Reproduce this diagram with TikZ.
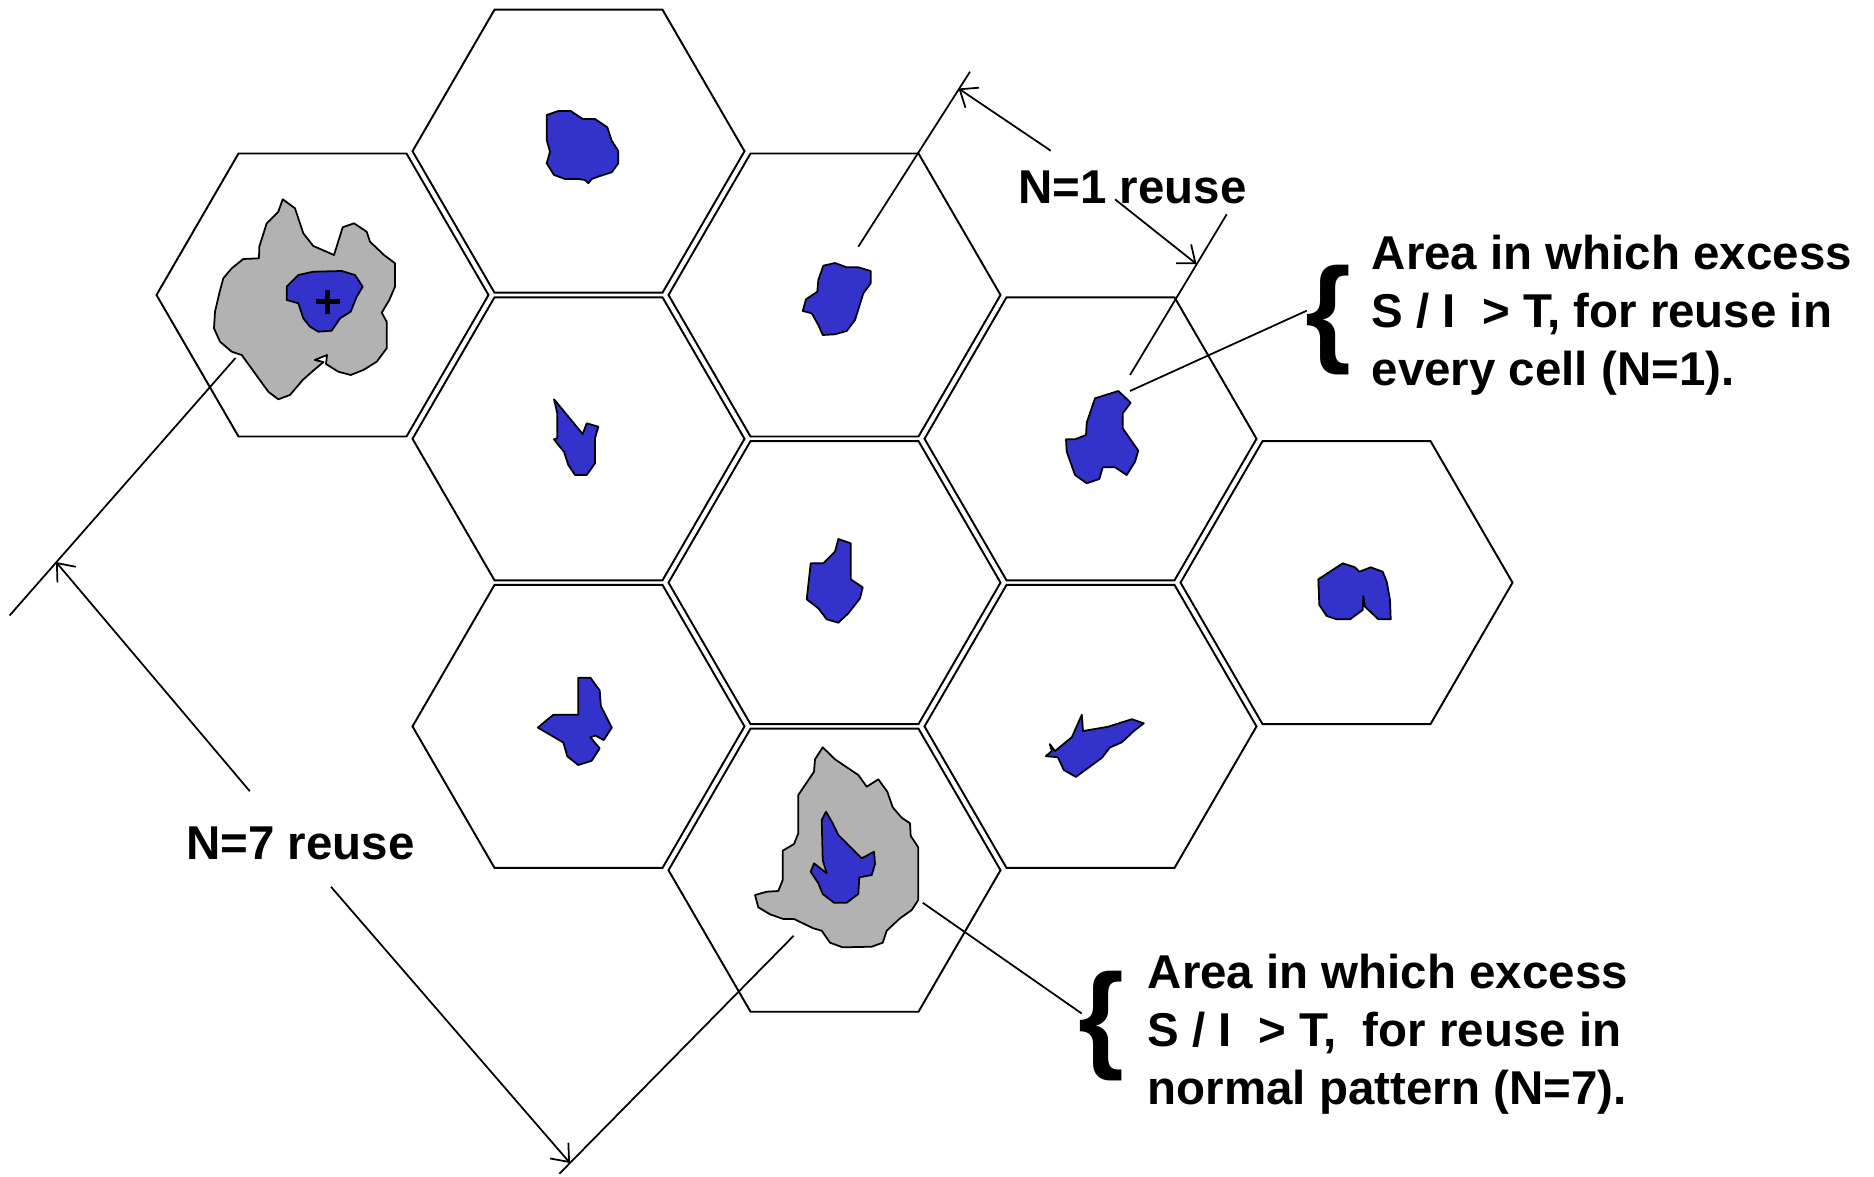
\documentclass[tikz,border=0pt]{standalone}
\usepackage{fontspec}
\setmainfont{Liberation Sans}
\usetikzlibrary{arrows.meta}
\definecolor{blobblue}{RGB}{51,51,204}
\definecolor{blobgray}{RGB}{178,178,178}
\begin{document}
\begin{tikzpicture}[x=0.01cm,y=-0.01cm,
  cell/.style={draw, line width=0.55pt, line join=miter},
  blob/.style={draw, line width=0.5pt, fill=blobblue, line join=round},
  shadearea/.style={draw, line width=0.5pt, fill=blobgray, line join=round},
  lead/.style={draw, line width=0.5pt},
  dimarrow/.style={draw, line width=0.5pt, -{Straight Barb[length=0.15cm,width=0.24cm,line width=0.5pt]}},
  lbl/.style={font=\fontsize{13.5}{16.5}\selectfont\bfseries, inner sep=0pt},
  bracetext/.style={font=\fontsize{33.5}{33.5}\selectfont\bfseries, inner sep=0pt}
]
\useasboundingbox (0,0) rectangle (1874,1176);
% cell centres
\coordinate (A) at (322.5,295);
\coordinate (B) at (578.5,151.2);
\coordinate (C) at (834.5,295);
\coordinate (D) at (578.5,438.8);
\coordinate (E) at (1090.5,438.8);
\coordinate (F) at (834.5,582.6);
\coordinate (G) at (1346.5,582.6);
\coordinate (H) at (578.5,726.4);
\coordinate (I) at (1090.5,726.4);
\coordinate (J) at (834.5,870.2);
\foreach \n in {A,B,C,D,E,F,G,H,I,J}
  \draw[cell] (\n) ++(-166,0) -- ++(82,-141.5) -- ++(168,0) -- ++(82,141.5) -- ++(-82,141.5) -- ++(-168,0) -- cycle;

% cell A: grey area and blue area
\draw[shadearea] (282.7,199.3) -- (295,208.3) -- (303.3,233.3) -- (313.3,246) -- (334,255) -- (342.7,227.3) -- (354,223.3) -- (366.7,231.7) -- (370,241.7) -- (384,255) -- (395,263.3) -- (395,286.7) -- (389.3,300) -- (381.7,312.7) -- (386.7,321.7) -- (386.7,348.3) -- (376.7,361.7) -- (363.3,370) -- (350.7,375) -- (338.3,371.7) -- (326,364) -- (327,355) -- (314.7,360) -- (323.5,362) -- (314,370) -- (302.7,380) -- (290,395) -- (278.3,399.3) -- (268.3,391.7) -- (255,373.3) -- (241.7,355) -- (231.7,351.7) -- (220,341.7) -- (214,328.3) -- (215,311.7) -- (219.3,293.3) -- (223.3,278.3) -- (231.7,268.3) -- (243.3,259) -- (259,258.3) -- (259.3,246.7) -- (266.7,223.3) -- (278.3,211.7) -- cycle;
\draw[blob] (286.7,286.7) -- (298.3,275) -- (313.3,271.7) -- (341.7,271) -- (355,275) -- (362.7,286.7) -- (356.7,296.7) -- (350.7,311.7) -- (340,318.3) -- (331.7,330.7) -- (318.3,331.7) -- (310,326.7) -- (303.3,318.3) -- (298.3,303.3) -- (286.7,300) -- cycle;
\coordinate (plusc) at (327.7,301.7);
\draw[line width=1.5pt] ([xshift=-0.12cm]plusc) -- ([xshift=0.12cm]plusc) ([yshift=-0.12cm]plusc) -- ([yshift=0.12cm]plusc);

% cell B
\draw[blob] (546.7,115) -- (558.3,111) -- (570.7,111) -- (582.7,119) -- (595,119) -- (607.3,127.3) -- (611.7,140.7) -- (618.3,151) -- (618.3,163.3) -- (611.7,172.3) -- (600,176) -- (591.7,179) -- (588.3,183.3) -- (585,180) -- (578.3,179) -- (565,179) -- (554,175) -- (546.7,163.3) -- (550,151.7) -- (546.7,140) -- cycle;
% cell C
\draw[blob] (823.3,265.7) -- (835,263) -- (846.7,267.3) -- (858.3,267.3) -- (870.7,271) -- (870.7,283.3) -- (863.3,293.3) -- (855,320) -- (846.7,331) -- (835,334.3) -- (822.7,335) -- (818.3,325) -- (811.7,313.3) -- (802.7,311) -- (806,299.3) -- (817.3,291.7) -- (818.3,280) -- cycle;
% cell D
\draw[blob] (554,399.3) -- (582.7,434) -- (586.7,423.3) -- (598.3,426.7) -- (595,438.3) -- (595,463.3) -- (586.7,475) -- (575,475) -- (568.3,465) -- (564,451.7) -- (558.3,445) -- (554,439.3) -- (557.3,438.3) -- (557.3,413.3) -- cycle;
% cell E
\draw[blob] (1095,398.3) -- (1118.3,391) -- (1130.7,402.7) -- (1122.7,413.3) -- (1122.7,428.3) -- (1138.3,450.7) -- (1135,461.7) -- (1126.7,475) -- (1115,467.3) -- (1102.7,467.3) -- (1099.3,479) -- (1086.7,483.3) -- (1075,475) -- (1066.7,451.7) -- (1066,439.3) -- (1075,439.3) -- (1086,435) -- (1086.7,422.7) -- cycle;
% cell F
\draw[blob] (838.3,539) -- (850.7,543.3) -- (850.7,579.3) -- (862.7,587.3) -- (860,598.3) -- (848.3,613.3) -- (838.3,622.7) -- (826.7,619.3) -- (818.3,608.3) -- (806.7,599.3) -- (810.7,563.3) -- (823.3,563.3) -- (835,551.7) -- cycle;
% cell G
\draw[blob] (1318.3,579.3) -- (1342.7,563.3) -- (1355,567.3) -- (1359.3,571.7) -- (1370.7,567.3) -- (1382.7,571.7) -- (1386.7,581.7) -- (1390,600) -- (1390.7,619.3) -- (1378.3,619.3) -- (1365,606.7) -- (1363.3,596) -- (1362.7,610) -- (1350,619.3) -- (1336.7,619.3) -- (1326.7,616) -- (1319.3,605) -- cycle;
% cell H
\draw[blob] (578.2,677.7) -- (590.4,677.7) -- (599.7,690.5) -- (600.9,706.1) -- (611.8,727.6) -- (603.7,740.1) -- (595.6,735.6) -- (590.4,737.3) -- (599.7,748.4) -- (591.6,760.8) -- (578.2,765) -- (567.3,756.3) -- (563.3,742.5) -- (537.8,727.6) -- (553.2,714.8) -- (578.2,714.8) -- cycle;
% cell I
\draw[blob] (1081.8,714.7) -- (1083,731) -- (1107.8,726.8) -- (1131.8,719.2) -- (1143.8,723.3) -- (1133.8,731) -- (1121.8,742.3) -- (1109.8,747.5) -- (1101.8,757.9) -- (1075.8,776.9) -- (1063.8,770) -- (1057.8,757.2) -- (1045.8,756.2) -- (1051.8,751) -- (1049.8,744.1) -- (1055,751) -- (1071.8,737.2) -- cycle;
% cell J: grey area and blue area
\draw[shadearea] (822.7,747.3) -- (835,759.3) -- (858.3,775) -- (866.7,786.7) -- (878.3,779.3) -- (887.3,791.7) -- (892.7,807.3) -- (901.7,817.7) -- (910,823.3) -- (910.7,836) -- (918.3,847.3) -- (918.3,900) -- (911.7,910) -- (900,918.3) -- (886.7,930.7) -- (882.7,942.7) -- (871.7,946.7) -- (842.7,947.3) -- (830,942.7) -- (821.7,930.7) -- (813.3,928.3) -- (794,919) -- (783.3,919) -- (770,914.3) -- (758.3,907.3) -- (755,895) -- (766.7,891.7) -- (778.3,891) -- (782.7,880) -- (782.7,850.7) -- (794,844) -- (798.3,833.3) -- (798.3,795) -- (814,771.7) -- (815,759.3) -- cycle;
\draw[blob] (826,811.7) -- (832.7,823.3) -- (838.3,835) -- (861.7,858.3) -- (874,851.7) -- (875,864) -- (871.7,875) -- (859.3,877.3) -- (858.3,894) -- (846.7,902.7) -- (834,902.7) -- (822.7,894) -- (818.3,883.3) -- (810.7,871.7) -- (814,863.3) -- (826.7,873.3) -- (822.7,860) -- (821.7,820) -- cycle;

% labels
\node[lbl, anchor=base] (n1) at (1132.5,203) {N=1 reuse};
\node[lbl, anchor=base] (n7) at (300.5,859) {N=7 reuse};
\node[lbl, anchor=base west] (ta1) at (1371,269) {Area in which excess};
\node[lbl, anchor=base west] (ta2) at (1371,327) {S / I\ \ > T, for reuse in};
\node[lbl, anchor=base west] (ta3) at (1371,385) {every cell (N=1).};
\node[lbl, anchor=base west] (tb1) at (1147,988.5) {Area in which excess};
\node[lbl, anchor=base west] (tb2) at (1147,1046.5) {S / I\ \ > T,\ \ for reuse in};
\node[lbl, anchor=base west] (tb3) at (1147,1104.5) {normal pattern (N=7).};
\node[bracetext] (bra) at (1328,320) {\{};
\node[bracetext] (brb) at (1101,1026) {\{};

% N=1 dimension
\coordinate (c1a) at (858.3,246.7);
\coordinate (c1b) at (970,71.7);
\coordinate (c2a) at (1130,375);
\coordinate (c2b) at (1226.7,214.3);
\draw[lead] (c1a) -- (c1b);
\draw[lead] (c2a) -- (c2b);
\coordinate (d1s) at (1050.7,150.7);
\coordinate (d1t) at (958.5,88.5);
\coordinate (d2s) at (1115,199.3);
\coordinate (d2t) at (1196.5,264);
\draw[dimarrow] (d1s) -- (d1t);
\draw[dimarrow] (d2s) -- (d2t);

% N=7 dimension
\coordinate (e1a) at (235.5,358);
\coordinate (e1b) at (9.6,615.5);
\coordinate (e2a) at (793.6,935.8);
\coordinate (e2b) at (559.4,1173.7);
\draw[lead] (e1a) -- (e1b);
\draw[lead] (e2a) -- (e2b);
\coordinate (f1s) at (249.8,791.2);
\coordinate (f1t) at (56,562);
\coordinate (f2s) at (331,886.8);
\coordinate (f2t) at (570,1163);
\draw[dimarrow] (f1s) -- (f1t);
\draw[dimarrow] (f2s) -- (f2t);

% pointers to braces
\coordinate (pa) at (1130,391);
\coordinate (pae) at (1306.7,310.7);
\coordinate (pb) at (922.7,902.7);
\coordinate (pbe) at (1081.7,1013.5);
\draw[lead] (pa) -- (pae);
\draw[lead] (pb) -- (pbe);
\end{tikzpicture}
\end{document}
